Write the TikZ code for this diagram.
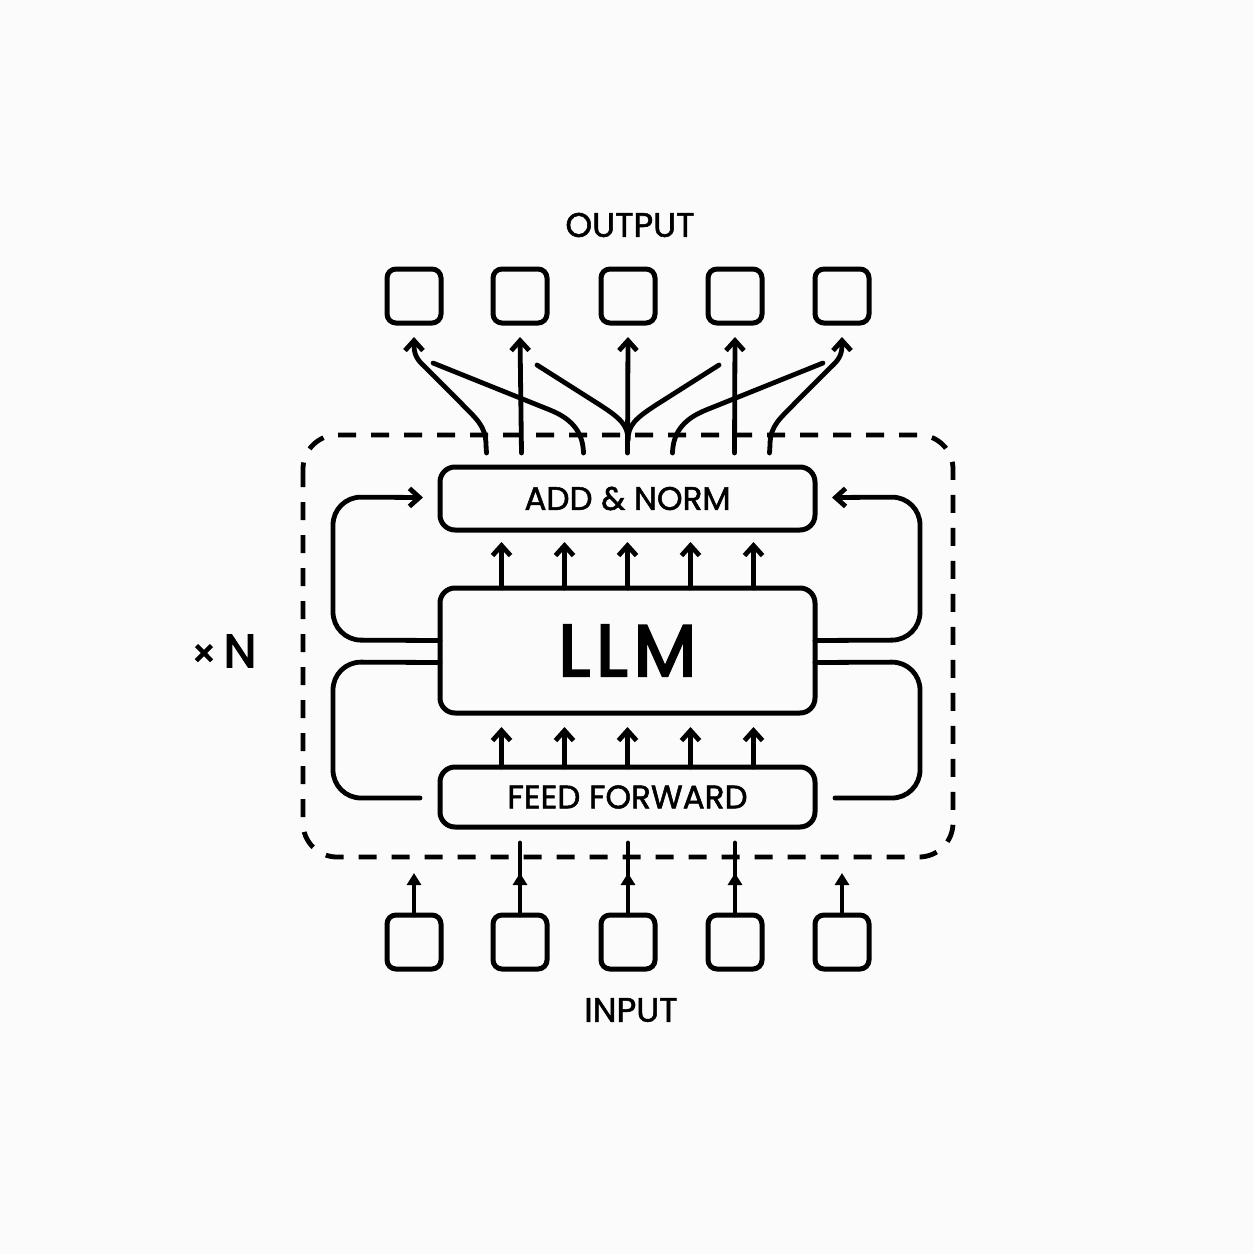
\documentclass[tikz,border=0pt]{standalone}
\usepackage{fontspec}
\setmainfont{Poppins}
\newfontfamily\medfont{Poppins}[FakeBold=1.6]
\newfontfamily\semifont{Poppins}[FakeBold=3.2]
\usetikzlibrary{arrows.meta,calc}
\tikzset{
  px/.style={x=0.5pt,y=-0.5pt},
  ln/.style={line width=2.4pt,line cap=round,line join=round},
  barb/.style={ln,-{Straight Barb[length=5pt,width=9pt,line width=2.4pt]}},
  tri/.style={ln,-{Triangle[length=6pt,width=7pt]}},
  bigbox/.style={draw,line width=2.5pt,rounded corners=7.5pt,minimum width=187.5pt,inner sep=0pt,outer sep=0pt},
  token/.style={draw,line width=2.5pt,rounded corners=4.5pt,minimum width=27pt,minimum height=27pt,inner sep=0pt,outer sep=0pt},
  lab/.style={font=\medfont\fontsize{16.3pt}{19pt}\selectfont},
  frame/.style={line width=2.4pt,dash pattern=on 9pt off 7.5pt,rounded corners=17pt}
}
\begin{document}
\begin{tikzpicture}[px]
\useasboundingbox[fill=gray!3] (0,0) rectangle (1254,1254);
% dashed frame
\draw[frame] (303,435) rectangle (953,857);
% main boxes
\node[bigbox,minimum height=31.5pt,lab] (add) at (627.5,498.5) {ADD \& NORM};
\node[bigbox,minimum height=62.5pt,font=\semifont\fontsize{36.5pt}{40pt}\selectfont] (llm) at (627.5,650.5) {L\kern3pt L\kern3pt M};
\node[bigbox,minimum height=30pt,lab] (ff) at (627.5,797) {FEED FORWARD};
% tokens
\foreach \i/\x in {1/414,2/520,3/628,4/735,5/842}{
  \node[token] (out\i) at (\x,296) {};
  \node[token] (in\i) at (\x,942) {};
}
% labels
\node[lab,font=\medfont\fontsize{17pt}{20pt}\selectfont] (outlab) at (630,225) {OUTPUT};
\node[lab,font=\medfont\fontsize{17pt}{20pt}\selectfont] (inlab) at (631,1010) {INPUT};
\node[font=\semifont\fontsize{23pt}{26pt}\selectfont] (xn) at (224,651) {{\fontsize{19pt}{20pt}\selectfont ×}\,N};
% arrows between boxes
\foreach \d in {-126,-63,0,63,126}{
  \draw[barb] ($(ff.north)+(\d,0)$) -- ($(llm.south)+(\d,14)$);
  \draw[barb] ($(llm.north)+(\d,0)$) -- ($(add.south)+(\d,12)$);
}
% side loops
\draw[barb,rounded corners=14pt] ($(llm.west)+(0,-10)$) -- (333,640) -- (333,497) -- ($(add.west)+(-17,-1)$);
\draw[ln,rounded corners=14pt] ($(llm.west)+(0,12)$) -- (333,662) -- (333,798) -- ($(ff.west)+(-20,1)$);
\draw[barb,rounded corners=14pt] ($(llm.east)+(0,-10)$) -- (920,640) -- (920,497) -- ($(add.east)+(17,-1)$);
\draw[ln,rounded corners=14pt] ($(llm.east)+(0,12)$) -- (920,662) -- (920,798) -- ($(ff.east)+(20,1)$);
% input arrows
\draw[tri] (in1.north) -- ($(in1.north)+(0,-42)$);
\draw[tri] (in5.north) -- ($(in5.north)+(0,-42)$);
\foreach \i in {2,3,4}{
  \draw[tri] (in\i.north) -- ($(in\i.north)+(0,-42)$);
  \draw[ln] ($(in\i.north)+(0,-38)$) -- ($(in\i.north)+(0,-72)$);
}
% output arrows
\coordinate (a1) at (433,363);
\coordinate (b1) at (537,365);
\coordinate (c1) at (719,365);
\coordinate (d1) at (823,363);
\draw[barb] ($(add.north)+(-106,-14)$) -- ($(out2.south)+(0,14)$);
\draw[barb] ($(add.north)+(0,-14)$) -- ($(out3.south)+(0,14)$);
\draw[barb] ($(add.north)+(107,-14)$) -- ($(out4.south)+(0,14)$);
\draw[barb] ($(add.north)+(-141,-14)$) -- (486,445) .. controls (486,425) and (475,418) .. (460,402) -- (428,370) .. controls (420,362) and (414,358) .. (414,345) -- ($(out1.south)+(0,14)$);
\draw[barb] ($(add.north)+(142,-14)$) -- (770,445) .. controls (770,425) and (781,418) .. (796,402) -- (828,370) .. controls (836,362) and (842,358) .. (842,345) -- ($(out5.south)+(0,14)$);
\draw[ln] (a1) -- (550,410) .. controls (575,420) and (583,435) .. ($(add.north)+(-44,-14)$);
\draw[ln] (d1) -- (706,410) .. controls (681,420) and (673,435) .. ($(add.north)+(45,-14)$);
\draw[ln] (b1) -- (600,405) .. controls (620,418) and (628,425) .. (628,440);
\draw[ln] (c1) -- (656,405) .. controls (636,418) and (628,425) .. (628,440);
\end{tikzpicture}
\end{document}
